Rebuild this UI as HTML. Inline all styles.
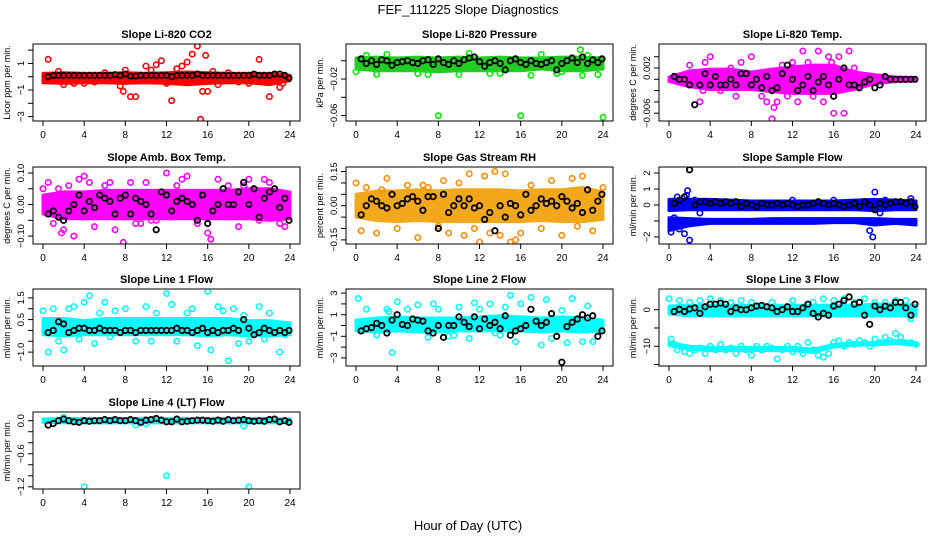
<!DOCTYPE html>
<html><head><meta charset="utf-8"><title>FEF_111225 Slope Diagnostics</title>
<style>
body{margin:0;background:#fff;}
svg{display:block;font-family:"Liberation Sans",Arial,sans-serif;}
</style></head>
<body>
<svg id="chart" width="936" height="540" viewBox="0 0 936 540" xmlns="http://www.w3.org/2000/svg">
<rect width="936" height="540" fill="#fff"/>
<text x="468" y="14" font-size="13" text-anchor="middle">FEF_111225  Slope Diagnostics</text>
<text x="468" y="530" font-size="13" text-anchor="middle">Hour of Day (UTC)</text>
</svg>
<script>
const xTicks = [0,4,8,12,16,20,24];
const bandHours = [0,2,4,6,8,10,12,14,16,18,20,22,24];
const blackHours = [0.5,1,1.5,2,2.5,3,3.5,4,4.5,5,5.5,6,6.5,7,7.5,8,8.5,9,9.5,10,10.5,11,11.5,12,12.5,13,13.5,14,14.5,15,15.5,16,16.5,17,17.5,18,18.5,19,19.5,20,20.5,21,21.5,22,22.5,23,23.5,23.9];

const co2Hi = [0.25,0.3,0.25,0.25,0.3,0.25,0.3,0.35,0.3,0.25,0.25,0.25,0.1];
const co2Lo = [-0.45,-0.5,-0.45,-0.45,-0.5,-0.45,-0.5,-0.6,-0.5,-0.45,-0.45,-0.6,-0.3];
const co2PtH = [0.5,1.5,3,5,7.5,7.8,8,8.5,9,10,11,11.5,12.5,13,13.5,14,14.5,15,15.3,15.5,15.8,16,16.5,17,18,20,21,22,23,23.3,2,6,19,12,4,10.5];
const co2PtV = [1.3,0.4,-0.5,-0.4,-0.7,-1.1,0.5,-1.5,-1.5,0.8,0.9,1.2,-1.8,0.6,0.8,1.1,1.7,2.3,-3.2,-1.1,1.6,-1.1,0.4,-0.6,0.3,-0.5,1.3,-1.5,-0.8,-0.5,-0.6,0.3,-0.4,-0.5,-0.5,0.5];
const co2Black = [0,0.1,0.1,0.1,0.1,0.1,0.1,0.1,0.1,0.1,0.1,0.1,0.1,0.15,0.1,0.2,0.05,0.05,0.1,0.1,0.1,0.1,0.1,0.1,0.0,0.1,0.1,0.1,0.1,0.2,0.1,0.1,0.1,0.1,0.1,0.1,0.1,0.1,0.1,0.1,0.2,0.1,0.1,0.1,0.2,0.2,0.1,-0.1];

const presHi = [0.003,0.004,0.003,0.004,0.003,0.004,0.003,0.004,0.003,0.003,0.004,0.004,0.003];
const presLo = [-0.009,-0.011,-0.011,-0.011,-0.012,-0.011,-0.011,-0.011,-0.011,-0.009,-0.011,-0.011,-0.009];
const presPtH = [8,16,24,21.8,22.5,1,2,6,10,13,17,19.5,22,0,3,7,11,14,18,20,23.5];
const presPtV = [-0.060,-0.060,-0.062,0.012,0.006,0.006,-0.015,-0.014,-0.015,-0.014,-0.016,-0.014,-0.016,-0.012,0.007,-0.015,0.008,-0.014,0.007,-0.012,-0.015];
const presBlack = [0.002,-0.003,0.0,-0.004,0.001,0.0,-0.005,-0.002,-0.001,0.0,-0.002,-0.003,0.0,0.001,-0.004,0.002,-0.002,-0.004,0.0,-0.003,0.001,0.003,0.004,-0.001,-0.006,-0.002,0.0,-0.003,-0.010,0.0,0.002,-0.002,-0.004,0.0,-0.003,-0.004,-0.002,0.0,-0.010,-0.003,0.0,0.003,-0.002,0.004,-0.003,0.001,-0.002,0.002];

const tempHi = [0.0004,0.0015,0.0018,0.0018,0.0013,0.0018,0.0022,0.0025,0.0025,0.0013,0.0008,0.0004,0.0003];
const tempLo = [-0.0004,-0.0013,-0.0018,-0.0018,-0.0018,-0.0022,-0.0025,-0.0025,-0.0025,-0.0018,-0.0008,-0.0004,-0.0003];
const tempPtH = [2,3,3.5,4,5,6,6.5,7,8,9,9.5,10,10.5,11,11.5,12,12.5,13,13.5,14,14.5,15,15.5,16,16.2,16.5,17,17.5,18,3.3,10.2,15.8,2.5,8.5];
const tempPtV = [0.0025,-0.004,0.003,0.004,-0.002,0.002,-0.003,0.003,0.004,-0.003,-0.004,-0.007,-0.004,0.0025,-0.003,0.003,-0.004,0.005,0.003,-0.003,0.005,-0.004,0.004,-0.006,-0.008,0.004,-0.006,0.005,0.002,-0.002,-0.005,0.003,0.001,0.001];
const tempBlack = [0.0005,0,0,-0.001,-0.0045,-0.001,0.001,-0.001,0.0005,-0.001,-0.001,0.0,-0.001,0.001,0.001,-0.001,0.0,-0.0015,0.0005,-0.002,-0.0015,0.001,0.0025,0.0,-0.002,-0.001,0.0005,-0.002,-0.0005,0.0005,-0.001,-0.003,0.0,0.002,-0.001,-0.001,-0.0015,-0.0005,0.0,-0.0015,-0.001,0.0005,0.0,0.0,0.0,0.0,0.0,0.0];

const boxHi = [0.03,0.04,0.04,0.045,0.045,0.045,0.045,0.045,0.045,0.045,0.05,0.05,0.04];
const boxLo = [-0.03,-0.045,-0.045,-0.045,-0.045,-0.045,-0.045,-0.045,-0.045,-0.045,-0.045,-0.05,-0.045];
const boxPtH = [0,0.5,1,1.5,2,2.5,3,3.5,4,5,6,7,7.8,8.5,9,10,11,12,12.5,13,14,15,16,16.3,17,18,19,20,21,21.5,22,23,23.5,4.5,9.5,13.5,19.5,1.8,6.5,10.5];
const boxPtV = [0.05,0.07,-0.06,0.05,-0.08,0.06,-0.10,0.08,0.09,-0.07,0.06,-0.08,-0.12,0.07,-0.06,0.07,-0.05,0.10,-0.04,0.06,0.09,-0.06,-0.09,-0.11,0.08,0.06,-0.07,0.08,-0.05,0.08,0.07,-0.06,-0.07,0.07,-0.06,0.08,0.06,-0.09,0.07,-0.05];
const boxBlack = [-0.03,-0.02,-0.04,-0.05,-0.02,0.0,0.03,-0.02,0.01,-0.01,0.03,0.02,0.01,-0.03,0.02,0.03,-0.03,0.02,0.01,0.0,-0.03,-0.08,0.04,0.03,-0.02,0.01,0.02,0.01,0.0,-0.05,0.03,-0.06,-0.02,0.0,0.05,0.0,0.0,0.04,0.07,0.0,0.05,-0.04,0.02,0.04,0.05,-0.01,0.02,-0.05];

const rhHi = [0.05,0.065,0.065,0.07,0.065,0.07,0.07,0.07,0.065,0.07,0.07,0.08,0.06];
const rhLo = [-0.05,-0.065,-0.07,-0.065,-0.07,-0.07,-0.07,-0.07,-0.07,-0.065,-0.07,-0.07,-0.06];
const rhPtH = [0,0.5,1,2,3,4,5,6,7,8,8.5,9,10,10.5,11,12,12.5,13,13.5,14,14.5,15,16,17,18,19,20,21,21.5,22,23,24,2.5,6.5,11.5,15.5];
const rhPtV = [0.10,-0.11,0.08,-0.12,0.12,-0.10,0.09,-0.14,0.08,-0.09,0.11,-0.12,0.10,-0.13,0.14,-0.16,0.13,-0.12,0.15,-0.13,0.14,-0.16,-0.12,0.09,-0.10,0.11,-0.13,0.12,-0.09,0.13,-0.11,0.08,0.07,0.09,-0.10,-0.15];
const rhBlack = [-0.04,0.0,0.03,0.02,0.0,-0.01,0.05,0.0,0.01,0.03,0.04,0.02,-0.02,0.04,0.04,-0.10,0.05,-0.03,0.0,0.03,0.0,0.03,-0.01,0.0,-0.06,-0.03,-0.11,0.0,-0.05,0.01,0.0,-0.04,0.05,-0.02,0.0,0.03,0.01,0.02,0.0,0.04,0.02,-0.01,0.01,-0.03,0.07,-0.02,0.02,0.05];

const sfHi = [0.35,0.35,0.35,0.3,0.25,0.25,0.25,0.25,0.25,0.3,0.35,0.3,0.25];
const sfLo = [-0.35,-0.3,-0.3,-0.3,-0.3,-0.3,-0.3,-0.3,-0.3,-0.3,-0.35,-0.3,-0.3];
const sfHi2 = [-0.8,-0.85,-0.9,-0.9,-0.9,-0.85,-0.85,-0.85,-0.85,-0.85,-0.85,-0.9,-0.9];
const sfLo2 = [-1.6,-1.3,-1.15,-1.15,-1.15,-1.15,-1.15,-1.15,-1.1,-1.1,-1.25,-1.15,-1.25];
const sfPtH = [0.2,0.5,0.8,1,1.2,1.5,1.8,2,2.5,3,19.5,19.8,20,20.2,20.5,21,23.5,1.7,0.3,12,16];
const sfPtV = [-1.7,-0.8,0.5,-1.5,0.0,-1.8,0.9,-2.2,0.3,-0.5,-1.6,-2.0,0.8,0.2,-0.5,0.3,0.4,0.6,-1.0,0.3,0.3];
const sfBlack = [0.1,0.3,0.5,2.2,0.0,0.2,0.2,0.1,0.2,0.1,0.2,0.1,0.2,-0.1,0.1,0.0,-0.1,0.1,0.0,0.0,0.1,0.0,0.1,0.0,-0.1,0.0,0.0,0.1,0.2,0.1,0.0,0.1,0.0,-0.1,0.0,0.1,-0.1,0.2,0.0,-0.3,0.1,0.0,0.1,0.2,0.2,0.1,0.2,-0.1];

const l1Hi = [0.55,0.55,0.45,0.55,0.55,0.55,0.55,0.55,0.55,0.55,0.45,0.45,0.35];
const l1Lo = [-0.2,-0.25,-0.2,-0.2,-0.2,-0.2,-0.2,-0.2,-0.25,-0.2,-0.25,-0.25,-0.2];
const l1PtH = [0,0.5,1,1.5,2,2.5,3,3.5,4,4.5,5,5.5,6,6.5,7,8,9,10,11,12,12.5,13,14,15,16,16.3,17,17.5,18,18.5,19,20,21,21.5,22,23,23.5,10.5,14.5,19.5];
const l1PtV = [0.9,-1.0,1.0,-0.5,-0.9,1.0,1.1,-0.4,1.3,1.6,-0.6,0.8,1.3,-0.3,0.9,1.0,-0.5,1.1,0.8,1.7,1.2,-0.5,0.8,-0.7,1.8,-0.9,1.1,0.9,-1.4,1.0,-0.6,-0.5,1.1,-0.4,0.8,-1.0,-0.2,-0.5,1.0,0.7];
const l1Black = [-0.1,0.0,0.4,0.3,-0.1,0.0,0.1,0.1,0.0,0.0,0.1,0.0,0.0,0.0,-0.1,0.0,0.0,-0.1,0.0,0.0,0.0,0.0,0.0,0.0,0.0,0.1,0.0,0.0,-0.1,0.0,0.1,-0.1,0.0,-0.1,0.0,0.0,0.1,0.0,0.5,0.1,-0.2,-0.1,0.1,0.0,-0.1,0.0,-0.1,0.0];

const l2Hi = [0.5,0.7,0.8,0.7,0.7,0.7,0.8,0.9,0.8,0.7,0.8,0.7,0.5];
const l2Lo = [-0.5,-0.6,-0.5,-0.6,-0.6,-0.5,-0.5,-0.5,-0.5,-0.6,-0.5,-0.6,-0.5];
const l2PtH = [0.2,1,2,3,3.5,4,5,6,7,7.5,8,9,10,11,11.5,12,13,14,14.5,15,15.5,16,17,18,18.5,19,20,20.5,21,22,22.5,23,3.2,9.5,13.5];
const l2PtV = [2.5,1.5,-0.9,1.5,-2.5,2.2,1.5,1.9,-1.1,2.0,1.5,-1.0,1.7,-1.2,2.1,1.5,2.0,-0.9,1.7,2.8,-1.5,2.0,2.6,-1.8,2.4,-1.2,1.4,-1.6,2.5,-1.5,1.8,-1.5,1.3,-0.9,-0.7];
const l2Black = [-0.5,-0.3,-0.2,0.2,0.0,-0.7,0.5,1.0,0.1,0.0,0.6,0.5,0.4,-0.5,-0.7,0.0,-1.1,0.0,0.0,0.8,0.3,-0.1,0.8,-0.3,0.6,0.0,0.3,-0.3,0.9,-0.9,-0.5,-0.3,0.0,1.5,0.4,0.0,0.3,1.1,-1.0,-3.4,-0.1,0.3,0.6,1.0,0.7,0.9,-1.0,-0.5];

const l3Hi = [1,1.2,1.2,1.2,1.2,1.2,1.2,1.2,1.2,1.2,1.5,1.5,1.2];
const l3Lo = [-1.2,-1.7,-1.7,-1.7,-1.7,-1.7,-1.7,-1.7,-1.7,-1.7,-1.7,-1.7,-1.7];
const l3Hi2 = [-9,-10,-10.3,-10.3,-10.3,-10.3,-10.3,-10.8,-9.5,-9,-9,-8.5,-9];
const l3Lo2 = [-9.8,-10.8,-11.2,-11.2,-11.2,-11.2,-11.2,-11.7,-10.2,-9.7,-9.7,-9.2,-9.8];
const l3PtH = [0,1,2,3,4,5,6,7,8,10,12,14,15,16,17,18,19,20,21,22,23,23.5,0.2,0.5,0.8,1,1.5,2,2.5,3,3.5,4,4.5,5,5.5,6,6.5,7,7.5,8,8.5,9,9.5,10,10.5,11,11.5,12,12.5,13,13.5,14,14.5,15,15.5,16,16.5,17,17.5,18,18.5,19,19.5,20,20.5,21,21.5,22,22.5,23,23.5,24];
const l3PtV = [3,2.5,2,2.5,3,2.5,2,2.5,2,2,2.5,2,3,2.5,3,2,3,2,2,2.5,2.5,-2.5,-8,-9.5,-11,-10,-11.5,-12,-11,-10.5,-12,-10,-11,-9.5,-11,-10.5,-12,-10,-11,-12.5,-10,-11,-10,-10.5,-13.5,-11,-10,-11.5,-10,-12,-9,-11,-12.5,-13,-12,-9,-8.5,-10,-9,-9.5,-8.5,-9,-10,-8,-9,-7.5,-8.5,-6.5,-7.5,-9,-9,-9.5];
const l3Black = [-0.5,0.1,-0.5,0.2,0.5,-1.0,0.8,1.5,1.5,1.8,1.5,-0.5,0.5,0.0,0.0,0.5,1.0,1.2,0.8,0.5,-0.5,0.0,0.8,-0.5,-0.5,0.5,1.5,-1.0,-2.0,-1.0,-1.5,1.0,1.5,2.5,3.5,1.5,2.0,-1.5,-4.0,1.0,0.0,1.0,0.5,2.0,2.0,0.5,-1.5,1.5];

const l4Hi = [0.03,0.04,0.04,0.04,0.04,0.04,0.04,0.04,0.04,0.04,0.04,0.04,0.03];
const l4Lo = [-0.03,-0.04,-0.04,-0.04,-0.04,-0.04,-0.04,-0.04,-0.04,-0.04,-0.04,-0.04,-0.03];
const l4PtH = [4,12,20,2,9,19.5,10];
const l4PtV = [-1.2,-1.0,-1.2,0.06,-0.08,-0.1,-0.06];
const l4Black = [-0.08,-0.05,0.0,0.03,0.0,-0.02,-0.03,0.0,-0.01,0.0,0.0,0.02,0.0,0.02,0.0,0.0,0.02,0.0,-0.03,0.01,0.02,0.04,0.01,-0.02,-0.02,0.03,-0.02,-0.01,0.0,0.01,0.01,0.0,-0.01,0.01,-0.01,0.02,0.0,0.01,0.02,0.0,-0.01,0.0,-0.01,0.02,0.03,-0.02,0.0,-0.03];

const co2Ticks=[2,1,0,-1,-2,-3], co2Labels=["1","−1","−3"], co2LabelVals=[1,-1,-3];
const presTicks=[0,-0.02,-0.04,-0.06], presLabels=["−0.02","−0.06"], presLabelVals=[-0.02,-0.06];
const tempTicks=[0.004,0.002,0,-0.002,-0.004,-0.006], tempLabels=["0.002","−0.006"], tempLabelVals=[0.002,-0.006];
const boxTicks=[0.1,0.05,0,-0.05,-0.1], boxLabels=["0.10","0.00","−0.10"], boxLabelVals=[0.1,0,-0.1];
const rhTicks=[0.15,0.1,0.05,0,-0.05,-0.1,-0.15], rhLabels=["0.15","0.00","−0.15"], rhLabelVals=[0.15,0,-0.15];
const sfTicks=[2,1,0,-1,-2], sfLabels=["2","1","0","−2"], sfLabelVals=[2,1,0,-2];
const l1Ticks=[1.5,1,0.5,0,-0.5,-1], l1Labels=["1.5","0.5","−1.0"], l1LabelVals=[1.5,0.5,-1];
const l2Ticks=[3,2,1,0,-1,-2,-3], l2Labels=["3","1","−1","−3"], l2LabelVals=[3,1,-1,-3];
const l3Ticks=[0,-5,-10,-15], l3Labels=["0","−10"], l3LabelVals=[0,-10];
const l4Ticks=[0,-0.2,-0.4,-0.6,-0.8,-1.0,-1.2], l4Labels=["0.0","−0.6","−1.2"], l4LabelVals=[0,-0.6,-1.2];

const NS="http://www.w3.org/2000/svg";
const svg=document.getElementById('chart');
function mk(tag,attrs,parent){const e=document.createElementNS(NS,tag);for(const k in attrs)e.setAttribute(k,attrs[k]);(parent||svg).appendChild(e);return e;}

const colLeft=[33,346,659], rowTop=[44,167,289,412], W=267, H=77;
const panels=[
 {name:'co2',title:'Slope Li-820 CO2',ylab:'Licor ppm per min.',c:0,r:0,y0:2.46,y1:-3.33,col:'#ff0000',band:'#ff0000',hi:co2Hi,lo:co2Lo,ph:co2PtH,pv:co2PtV,bk:co2Black,t:co2Ticks,lv:co2LabelVals,lt:co2Labels},
 {name:'pressure',title:'Slope Li-820 Pressure',ylab:'kPa per min.',c:1,r:0,y0:0.0183,y1:-0.0659,col:'#00ee00',band:'#22cc22',hi:presHi,lo:presLo,ph:presPtH,pv:presPtV,bk:presBlack,t:presTicks,lv:presLabelVals,lt:presLabels},
 {name:'temp',title:'Slope Li-820 Temp.',ylab:'degrees C per min.',c:2,r:0,y0:0.00625,y1:-0.00738,col:'#ff00ff',band:'#ff00ff',hi:tempHi,lo:tempLo,ph:tempPtH,pv:tempPtV,bk:tempBlack,t:tempTicks,lv:tempLabelVals,lt:tempLabels},
 {name:'amb-box-temp',title:'Slope Amb. Box Temp.',ylab:'degrees C per min.',c:0,r:1,y0:0.119,y1:-0.125,col:'#ff00ff',band:'#ff00ff',hi:boxHi,lo:boxLo,ph:boxPtH,pv:boxPtV,bk:boxBlack,t:boxTicks,lv:boxLabelVals,lt:boxLabels},
 {name:'gas-rh',title:'Slope Gas Stream RH',ylab:'percent per min.',c:1,r:1,y0:0.170,y1:-0.168,col:'#ff8c00',band:'#f2a81a',hi:rhHi,lo:rhLo,ph:rhPtH,pv:rhPtV,bk:rhBlack,t:rhTicks,lv:rhLabelVals,lt:rhLabels},
 {name:'sample-flow',title:'Slope Sample Flow',ylab:'ml/min per min.',c:2,r:1,y0:2.375,y1:-2.44,col:'#0000ff',band:'#0000ff',hi:sfHi,lo:sfLo,hi2:sfHi2,lo2:sfLo2,ph:sfPtH,pv:sfPtV,bk:sfBlack,t:sfTicks,lv:sfLabelVals,lt:sfLabels},
 {name:'line1-flow',title:'Slope Line 1 Flow',ylab:'ml/min per min.',c:0,r:2,y0:1.91,y1:-1.64,col:'#00ffff',band:'#00ffff',hi:l1Hi,lo:l1Lo,ph:l1PtH,pv:l1PtV,bk:l1Black,t:l1Ticks,lv:l1LabelVals,lt:l1Labels},
 {name:'line2-flow',title:'Slope Line 2 Flow',ylab:'ml/min per min.',c:1,r:2,y0:3.38,y1:-3.75,col:'#00ffff',band:'#00ffff',hi:l2Hi,lo:l2Lo,ph:l2PtH,pv:l2PtV,bk:l2Black,t:l2Ticks,lv:l2LabelVals,lt:l2Labels},
 {name:'line3-flow',title:'Slope Line 3 Flow',ylab:'ml/min per min.',c:2,r:2,y0:5.66,y1:-15.4,col:'#00ffff',band:'#00ffff',hi:l3Hi,lo:l3Lo,hi2:l3Hi2,lo2:l3Lo2,ph:l3PtH,pv:l3PtV,bk:l3Black,t:l3Ticks,lv:l3LabelVals,lt:l3Labels},
 {name:'line4-flow',title:'Slope Line 4 (LT) Flow',ylab:'ml/min per min.',c:0,r:3,y0:0.158,y1:-1.24,col:'#00ffff',band:'#00ffff',hi:l4Hi,lo:l4Lo,ph:l4PtH,pv:l4PtV,bk:l4Black,t:l4Ticks,lv:l4LabelVals,lt:l4Labels}
];

panels.forEach(p=>{
 const L=colLeft[p.c], T=rowTop[p.r];
 const xs=h=>L+10+h*(W-20)/24;
 const ys=v=>T+(p.y0-v)/(p.y0-p.y1)*H;
 const g=mk('g',{});
 
 
 const t=mk('text',{x:L+W/2,y:T-6,'font-size':11,'font-weight':'bold','text-anchor':'middle'},g);
 t.textContent=p.title;
 
 
 const clip=mk('clipPath',{id:'clip-'+p.name},g);
 mk('rect',{x:L,y:T,width:W,height:H},clip);
 const plot=mk('g',{'clip-path':'url(#clip-'+p.name+')'},g);
 function band(hi,lo){
  let pts=bandHours.map((h,i)=>xs(h)+','+ys(hi[i]));
  for(let i=bandHours.length-1;i>=0;i--)pts.push(xs(bandHours[i])+','+ys(lo[i]));
  const b=mk('polygon',{points:pts.join(' '),fill:p.band,stroke:p.band,'stroke-width':3,'stroke-linejoin':'round'},plot);
  
  
 }
 band(p.hi,p.lo);
 if(p.hi2)band(p.hi2,p.lo2);
 p.ph.forEach((h,i)=>{
  const c=mk('circle',{cx:xs(h),cy:ys(p.pv[i]),r:2.7,fill:'none',stroke:p.col,'stroke-width':1.6},plot);
  
  
 });
 blackHours.forEach((h,i)=>{
  const c=mk('circle',{cx:xs(h),cy:ys(p.bk[i]),r:2.7,fill:'none',stroke:'#000','stroke-width':1.8},plot);
  
  
 });
 const fr=mk('rect',{x:L,y:T,width:W,height:H,fill:'none',stroke:'#000','stroke-width':1},g);
 
 
 xTicks.forEach(h=>{
  mk('line',{x1:xs(h),x2:xs(h),y1:T+H,y2:T+H+5,stroke:'#000'},g);
  const tx=mk('text',{x:xs(h),y:T+H+17,'font-size':10,'text-anchor':'middle'},g);
  tx.textContent=h;
  
  
 });
 p.t.forEach(v=>{mk('line',{x1:L-5,x2:L,y1:ys(v),y2:ys(v),stroke:'#000'},g);});
 p.lv.forEach((v,i)=>{
  const y=ys(v);
  const tl=mk('text',{x:L-9,y:y,'font-size':9.5,'text-anchor':'middle',transform:'rotate(-90 '+(L-9)+' '+y+')'},g);
  tl.textContent=p.lt[i];
  
  
 });
 const yl=mk('text',{x:L-23,y:T+H/2,'font-size':9,'text-anchor':'middle',transform:'rotate(-90 '+(L-23)+' '+(T+H/2)+')'},g);
 yl.textContent=p.ylab;
 
 
});
</script>
</body></html>
